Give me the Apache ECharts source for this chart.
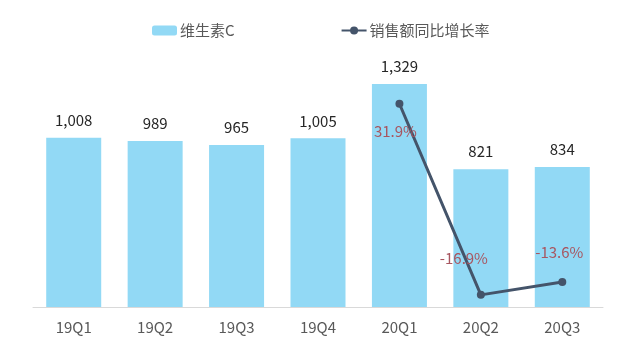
<!DOCTYPE html>
<html>
<head>
<meta charset="utf-8">
<script src="https://cdn.jsdelivr.net/npm/echarts@6/dist/echarts.min.js"></script>
<style>
  html, body { margin: 0; padding: 0; background: #fff; }
  #chart { width: 640px; height: 352px; }
</style>
</head>
<body>
<div id="chart"></div>
<script>
// quarters and values
const quarters = ['19Q1', '19Q2', '19Q3', '19Q4', '20Q1', '20Q2', '20Q3']
const vitaminC = [1008, 989, 965, 1005, 1329, 821, 834]
const growthRate = [null, null, null, null, 31.9, -16.9, -13.6]
// where each growth label sits relative to its point
const growthLabelOffset = [null, null, null, null, [-4, 28], [-17, -37], [-3, -30]]

const font = '"Noto Sans CJK SC", "Microsoft YaHei", sans-serif'

const lineData = growthRate.map((v, i) => {
  if (v === null) return null
  return {
    value: v,
    label: { offset: growthLabelOffset[i] }
  }
})

const chart = echarts.init(document.getElementById('chart'))
chart.setOption({
  backgroundColor: '#fff',
  animation: false,
  textStyle: { fontFamily: font },
  legend: {
    left: 147,
    top: 18,
    itemGap: 106,
    itemWidth: 25,
    itemHeight: 10,
    textStyle: { fontSize: 15, color: '#595959', fontFamily: font, padding: [0, 0, 0, -2] },
    data: ['维生素C', '销售额同比增长率']
  },
  grid: { left: 33, right: 37, top: 72, bottom: 45 },
  xAxis: {
    type: 'category',
    data: quarters,
    axisLine: { lineStyle: { color: '#d9d9d9', width: 1 } },
    axisTick: { show: false },
    axisLabel: { color: '#595959', fontSize: 15, margin: 13, fontFamily: font }
  },
  yAxis: [
    { type: 'value', min: 0, max: 1400, show: false },
    { type: 'value', min: -20, max: 40, show: false }
  ],
  series: [
    {
      name: '维生素C',
      type: 'bar',
      barWidth: 55,
      data: vitaminC,
      itemStyle: { color: '#92d9f5' },
      label: {
        show: true,
        position: 'top',
        distance: 10,
        color: '#262626',
        fontSize: 15,
        fontFamily: font,
        formatter: p => p.value.toLocaleString('en-US')
      }
    },
    {
      name: '销售额同比增长率',
      type: 'line',
      yAxisIndex: 1,
      data: lineData,
      connectNulls: false,
      symbol: 'circle',
      symbolSize: 8,
      itemStyle: { color: '#44546a' },
      lineStyle: { color: '#44546a', width: 3 },
      label: {
        show: true,
        position: 'inside',
        color: '#a85660',
        fontSize: 15,
        fontFamily: font,
        formatter: p => p.value.toFixed(1) + '%'
      }
    }
  ]
})
</script>
</body>
</html>
